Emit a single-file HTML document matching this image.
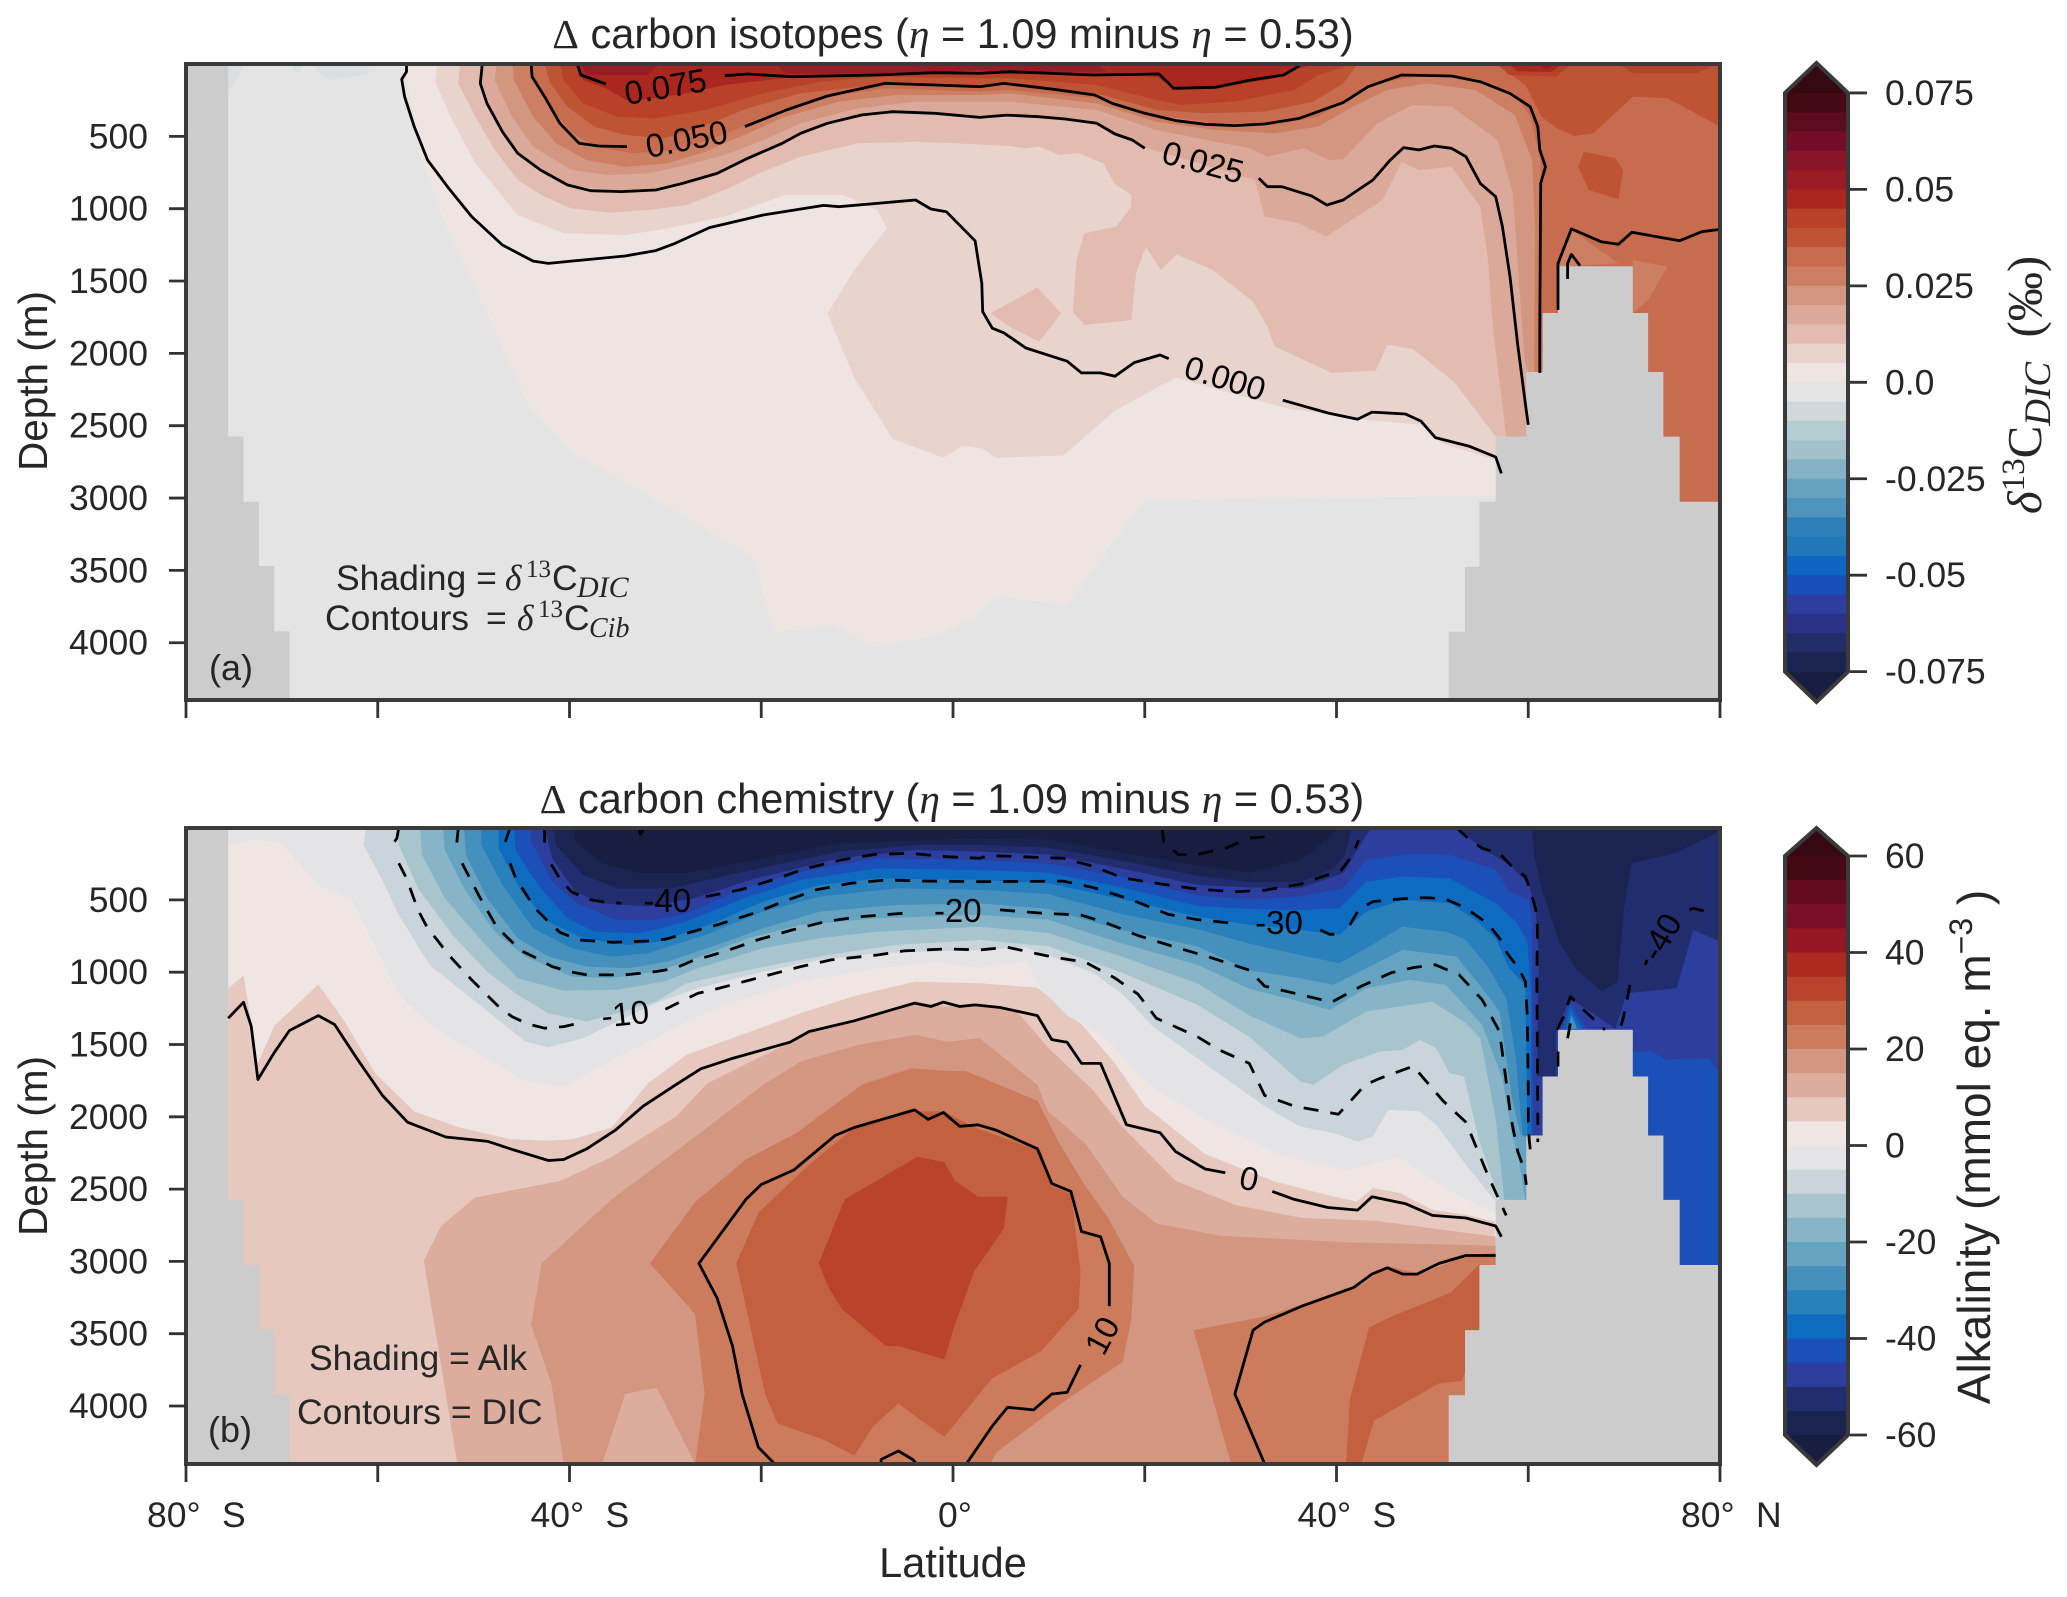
<!DOCTYPE html>
<html lang="en"><head><meta charset="utf-8"><title>Carbon isotopes and carbon chemistry sections</title>
<style>
html,body{margin:0;padding:0;background:#fff}
svg{display:block}
text{font-family:"Liberation Sans",sans-serif;fill:#262626}
.s35{font-size:35.5px}.mi{font-family:"Liberation Serif",serif;font-style:italic}.mr{font-family:"Liberation Serif",serif}
</style></head><body>
<svg xmlns="http://www.w3.org/2000/svg" id="fig" width="2067" height="1597" viewBox="0 0 2067 1597">
<defs>
<clipPath id="clipA"><rect x="186" y="64" width="1534" height="636"/></clipPath>
<clipPath id="clipB"><rect x="186" y="828" width="1534" height="636"/></clipPath>
</defs>
<g id="panelA" clip-path="url(#clipA)"></g>
<g id="panelB" clip-path="url(#clipB)"></g>
<g id="axes"></g>
<g id="cbars"></g>

<text x="953" y="48" text-anchor="middle" font-size="41.5"><tspan class="mr">Δ</tspan> carbon isotopes (<tspan class="mi">η</tspan> = 1.09 minus <tspan class="mi">η</tspan> = 0.53)</text>
<text x="952" y="813" text-anchor="middle" font-size="41.5"><tspan class="mr">Δ</tspan> carbon chemistry (<tspan class="mi">η</tspan> = 1.09 minus <tspan class="mi">η</tspan> = 0.53)</text>

<text x="336" y="590" class="s35">Shading =<tspan class="mi" x="505">δ</tspan><tspan class="mr" x="526" dy="-13" font-size="25">13</tspan><tspan x="552" dy="13">C</tspan><tspan class="mi" x="577" dy="7" font-size="30">DIC</tspan></text>
<text x="325" y="630" class="s35">Contours<tspan x="486">=</tspan><tspan class="mi" x="517">δ</tspan><tspan class="mr" x="538" dy="-13" font-size="25">13</tspan><tspan x="564" dy="13">C</tspan><tspan class="mi" x="589" dy="7" font-size="28">Cib</tspan></text>
<text x="231" y="680" text-anchor="middle" font-size="36">(a)</text>
<text x="309" y="1370" class="s35">Shading = Alk</text>
<text x="297" y="1424" class="s35">Contours = DIC</text>
<text x="230" y="1442" text-anchor="middle" font-size="36">(b)</text>

<text transform="translate(47,381) rotate(-90)" text-anchor="middle" font-size="40.5">Depth (m)</text>
<text transform="translate(47,1146) rotate(-90)" text-anchor="middle" font-size="40.5">Depth (m)</text>
<text x="953" y="1577" text-anchor="middle" font-size="41.5">Latitude</text>

<text transform="translate(2041,385) rotate(-90)" text-anchor="middle" font-size="49"><tspan class="mi">δ</tspan><tspan class="mr" dy="-17" font-size="33">13</tspan><tspan class="mr" dy="17">C</tspan><tspan class="mi" dy="9" font-size="37">DIC</tspan><tspan class="mr" dy="-9" xml:space="preserve">  (‰)</tspan></text>
<text transform="translate(1990,1147) rotate(-90)" text-anchor="middle" font-size="46">Alkalinity (mmol eq. m<tspan dy="-18" font-size="32">−3</tspan><tspan dy="18"> )</tspan></text>

<script>
// ---------- palettes (style only) ----------
const palA = ['#430a15','#5c0c1f','#740c28','#8a1428','#9a1a25','#ab261f','#b9412a','#bf5435','#c76c4f','#cd7f63','#d39680','#dba999','#e2bcb0','#e8d3cd','#eee5e3','#e4e4e5','#d0d8dc','#b5ccd2','#a2c2cb','#85b1c4','#65a2c0','#4e94bd','#2f80b8','#2277b8','#0e66c0','#194fbb','#2c3f9e','#2a3188','#242c68','#1b2350'];
const palB = ['#430a15','#630c20','#7c0f28','#961624','#ad2a20','#b9432c','#c2603f','#cc7b5c','#d39680','#dcac9c','#e6c8be','#efe5e2','#e4e4e6','#c9d5da','#a8c5cd','#87b4c6','#65a3c0','#4690bd','#2a80bb','#0e6cc0','#1a50b8','#2c3f9e','#222d70','#1b2450'];
const darkNavy = '#181e42';

// ---------- axis ticks ----------
const depthTicks = [500,1000,1500,2000,2500,3000,3500,4000];
const latTicks = [-80,-60,-40,-20,0,20,40,60,80];
const latLabelLats = [-80,-40,0,40,80];
const latLabelDeg = ['80°','40°','0°','40°','80°'];
const latLabelHem = ['S','S','','S','N'];
const cbarATicks = [0.075,0.05,0.025,0,-0.025,-0.05,-0.075];
const cbarALabels = ['0.075','0.05','0.025','0.0','-0.025','-0.05','-0.075'];
const cbarBTicks = [60,40,20,0,-20,-40,-60];
const cbarBLabels = ['60','40','20','0','-20','-40','-60'];

// ---------- bathymetry, flat [lat,depth,...] ----------
const landLeft = [-80,0,-75.6,0,-75.6,2575,-74,2575,-74,3025,-72.4,3025,-72.4,3470,-70.8,3470,-70.8,3922,-69.2,3922,-69.2,4400,-80,4400];
const landRight = [51.7,4400,51.7,3925,53.4,3925,53.4,3475,54.9,3475,54.9,3025,56.6,3025,56.6,2575,59.8,2575,59.8,2129,61.5,2129,61.5,1721,63.1,1721,63.1,1398,70.9,1398,70.9,1721,72.5,1721,72.5,2129,74.1,2129,74.1,2575,75.8,2575,75.8,3025,80,3025,80,4400];

// ---------- panel (a): filled d13C DIC levels ----------
const aFaint1 = [-75.6,0,-75.6,190,-74.6,100,-74,0];
const aFaint2 = [-69,0,-68.6,60,-68,50,-67.8,0];
const aFaint3 = [-66.8,0,-66,70,-65,110,-63,90,-61,70,-60.9,0];
const aGe00 = [-57.2,0,-55.5,636,-52.9,1125,-48.9,1679,-44.2,2364,-39.6,2690,-29.6,3064,-20.9,3407,-18.6,3928,-12.3,3880,-8.3,4026,-2.3,3960,2.3,3830,4.5,3684,11.9,3733,20,3015,56.6,2983,80,2983,80,0];
const aGe05 = [-53.8,0,-54,122,-52.4,364,-49.8,687,-45.4,1044,-40.6,1170,-34.2,1182,-30.6,1147,-23.8,1055,-17.5,905,-11.5,905,-7.9,1009,-6.9,1136,-10.3,1424,-13.1,1723,-10.3,2168,-6.3,2592,-1,2722,1,2640,3,2657,4.5,2722,11.5,2706,16.9,2396,23.2,2168,34.8,2380,43.4,2461,48.8,2494,51.1,2624,56.6,2738,80,2738,80,0];
const aGe10 = [-51.4,0,-51.6,134,-49.8,364,-47.8,594,-45.4,802,-42.6,917,-39.8,998,-35.8,1028,-31.8,1009,-27.8,975,-23.8,871,-19.8,744,-15.9,640,-9.9,548,-3.9,537,0.1,548,5.9,567,7.5,583,9,571,11.1,629,13.1,617,15.7,687,16.8,825,18.6,905,18.6,986,17,1124,13.7,1170,12.9,1355,12.5,1712,13.7,1804,18.6,1770,19.1,1447,20.1,1263,21.7,1424,23.3,1316,27.1,1424,31.3,1643,32.8,1816,33.5,1950,39.5,2135,44.1,2119,45.3,1940,48,1972,52.3,2200,56.6,2575,80,2575,80,0];
const aDiamond = [3.9,1723,8.8,1544,11.3,1723,9,1919,5.9,1816];
const aGe15 = [-49.2,0,-49.3,134,-47.8,364,-45.4,617,-40.2,836,-34.6,882,-29.8,859,-24.6,756,-17.8,548,-13.1,410,-6.3,330,2.8,369,5.6,353,9,364,15,410,17.1,491,20,576,31.5,802,32.5,1055,36.1,1101,38.9,1193,44.8,940,46.8,675,48.6,733,52,710,55,986,55.8,1355,56.3,1816,57.7,2575,80,2575,80,0];
const aGe20 = [-47.6,0,-47.8,111,-46,364,-43.8,571,-39.8,733,-35.8,767,-31.8,756,-27.8,698,-23.8,629,-19.8,525,-15.9,410,-9.9,306,-3.9,260,2.8,260,5.9,260,15,318,21.2,456,27.4,537,31,583,32.8,640,36.6,583,39.2,664,40.7,659,44.3,410,47.9,283,52,295,56.8,525,58.4,894,59.6,2046,60,2129,80,3100,80,0];
const aGe25 = [-45.9,0,-45.8,111,-43.8,364,-41.4,548,-38.2,664,-34.2,710,-29.8,687,-25.8,606,-21.8,491,-17.5,364,-11.9,260,-5.9,214,2.8,214,5.9,203,15,272,21.2,399,27.4,456,33.5,479,38.1,433,41.7,295,45.3,180,49.4,134,54.5,180,58.6,352,60.4,664,60.7,1124,60.6,2129,80,3100,80,0];
const aGe30 = [-44.2,0,-43.8,111,-41.8,318,-39.8,468,-37.4,571,-33.4,617,-29,594,-25,514,-21.4,421,-17.5,306,-11.9,214,-7.1,168,2.8,191,5.9,180,15,237,21.2,353,27.4,410,33.5,421,38.1,364,41.2,237,44.3,134,49.4,76,54.5,99,58.6,203,60.2,364,61.3,664,61.3,1723,62,3100,80,3100,80,0];
const aPatch1 = [64.5,1147,69.4,1378,63.2,1401];
const aPatch2 = [70.9,1355,74.5,1401,72.5,1631,70.9,1723];
const aGe35 = [-42.6,0,-42,134,-40.2,295,-37.4,433,-34.2,491,-30.2,514,-26.2,433,-21.4,306,-15.9,203,-7.9,145,2.8,145,5.9,138,15,203,21.2,318,26.3,341,32.5,329,37.6,260,40.7,134,42.2,0];
const aGe35North = [56.6,0,59.7,145,61.4,364,63,445,64.8,498,66.8,479,70.9,226,74.5,237,79.1,399,80,433,80,0];
const aGe35Core = [65.8,606,69.1,652,69.9,733,69.4,935,66.3,871,65.2,710];
const aGe40 = [-41,0,-40.6,111,-38.6,272,-35,364,-31,376,-25.8,318,-19.8,203,-13.9,122,-7.9,88,2.8,99,5.9,99,15,145,21.2,249,23.8,283,29.4,260,35.6,180,38.1,76,41.7,0];
const aGe40N1 = [56.8,0,58,76,62.9,88,64.5,0];
const aGe40N2 = [69.4,0,70.9,65,77.6,65,79.6,0];
const aGe45 = [-39.2,0,-38.6,111,-36.2,168,-33.8,260,-27.8,203,-23.8,145,-17.8,99,-7.9,65,2.8,65,5.9,69,16.1,76,21.2,88,23.3,180,28.4,157,33.5,99,36,30,38.1,0];
const aGe45N = [58,0,58.8,50,62.4,55,63.6,0];
const aGe50a = [-38.8,0,-38.2,76,-31.8,76,-30.6,0];
const aGe50b = [-18.6,0,-17.4,65,-3.9,65,2.8,42,5.9,53,16.1,53,15,0];
const aGe50c = [61,0,61.8,40,63,0];

// ---------- panel (a): contours ----------
const aC0West = [-57,0,-57,53,-57.5,106,-57.2,226,-56.2,433,-54.8,664,-52.6,859,-50.2,1055,-47,1251,-43.8,1362,-42.2,1378,-39.8,1362,-34.2,1327,-31,1290,-29,1240,-25.4,1131,-19.8,1044,-13.5,977,-11.9,986,-3.9,940,-2.3,1002,-0.7,1021,2.3,1222,3,1516,3.1,1712,4.1,1826,5.3,1858,7.6,1963,11.9,2054,13.4,2135,15.4,2135,16.9,2158,18.9,2064,21.6,2011,22.5,2037];
const aC0East = [34.4,2324,39.1,2412,42.2,2455,43.7,2406,47.2,2419,48.8,2468,50.3,2582,53.8,2641,56.6,2716,57.2,2830];
const aC25West = [-49.1,0,-49.3,134,-48.6,272,-47,468,-45.4,617,-43,733,-40.2,836,-37.8,876,-34.6,882,-31,871,-28.2,825,-24.6,756,-21.4,652,-17.8,548,-15.9,479,-13.1,410,-9.5,352,-6.3,330,-1.9,341,2.8,369,5.6,353,8.9,364,11.7,380,15,410,16.9,484,18.7,525,20,583];
const aC25East = [31.9,790,32.8,848,34.3,848,37.4,912,39,975,40.7,940,43.8,802,45.6,664,47,578,48.6,594,50.2,567,52,583,53.5,640,55,825,56.6,917,57.3,1124,58.1,1470,58.9,1940,59.8,2396,60,2494];
const aC50West = [-44,0,-43.9,88,-42.6,226,-41,410,-39,548,-37,567,-34,571];
const aC50East = [-21.7,433,-17.4,318,-13.1,221,-7.1,134,-1.9,145,2.8,157,5.3,134,10.5,175,14.8,214,16.6,272,20,341,23.3,392,26.3,417,29.4,426,32.5,415,36.1,376,40.7,267,43.3,157,46.8,76,52,83,55,122,58.1,203,60.2,295,61,433,61.2,594,61.8,710,61.3,825,61.2,1816,61.2,2135];
const aC75West = [-39.2,0,-38.8,76,-36.2,138];
const aC75East = [-23.8,81,-21.4,69,-16.7,88,-7.9,76,-1.9,60,2.8,65,5.9,53,14.6,76,21.5,69,23,168,27.4,161,31,111,34.5,76,36,18,36.2,0];
const aCNorth = [63.1,1700,63.1,1378,64.5,1140,67.6,1228,69.4,1246,70.8,1163,75.8,1221,78.1,1159,80,1143];
const aCHill = [64.1,1486,64.1,1378,64.5,1316,65.4,1394];
const aLabelText = ['0.075','0.050','0.025','0.000'];
const aLabelLat = [-30,-27.8,26.1,28.4];
const aLabelDepth = [152,514,675,2168];
const aLabelAngle = [-10,-11,15,17];

// ---------- panel (b): filled alkalinity levels ----------
const bPos5 = [-75.6,1115,-74,1023,-72.5,1631,-70.8,1373,-66.2,1085,-63.5,1336,-60.2,1705,-56.2,1963,-51.5,2074,-46.2,2154,-42.2,2165,-39.6,2154,-35.6,2074,-31.8,1768,-27.8,1572,-15.9,1284,-9.9,1157,-3.9,1065,2.8,1076,8.8,1108,13.1,1336,16.9,1631,20,1926,26.3,2258,33.3,2442,36.2,2493,39.7,2551,42.1,2586,43.8,2493,46.6,2528,50,2643,53.5,2678,56.5,2724,56.5,4400,-75.6,4400];
const bPos10 = [-51.7,4400,-55.2,2995,-53.4,2756,-49.9,2560,-40.9,2442,-35.6,2277,-28.9,2000,-25.6,1768,-15.1,1422,-3.9,1203,-0.7,1238,2.8,1226,6.8,1281,9.9,1521,14.6,1816,17.7,2073,23.2,2442,29.4,2608,36.4,2700,44.1,2719,50.3,2774,56.6,2829,56.6,4400];
const bPos15 = [-40.6,4400,-41.9,3843,-44,3438,-42.9,3014,-35.6,2571,-28.9,2239,-19.8,1779,-15.9,1618,-9.9,1503,-3.9,1433,-0.7,1480,2.8,1457,8.8,1779,9.9,1963,13.8,2184,17.7,2553,21.2,2737,27.8,2822,41,2867,56.6,2892,56.6,4400];
const bLobe = [-36.6,4400,-34.2,3917,-30.9,3873,-26.9,4400];
const bPos20West = [-26.9,4400,-25.9,3917,-26.9,3364,-31.6,3014,-26.9,2590,-21.6,2295,-16.3,2110,-9.5,1779,-4.3,1664,-1.3,1680,1.4,1686,8.8,1889,11.1,2184,13.8,2479,16.2,2700,18.9,3032,18.6,3401,17.7,3695,11.9,3953,4.5,4322,3.9,4400];
const bPos20East = [25.1,3475,32.5,3382,42.6,3161,45.3,3032,48.8,3088,53.5,2959,56.6,2940,56.6,4400,29,4400];
const bPos25West = [-22.6,3014,-20.3,2663,-15,2332,-10.3,2074,-4.3,1963,-0.9,1963,2.2,2073,9.2,2240,10.3,2479,12.3,2534,13.3,3069,13.1,3327,9.2,3622,4.1,3807,-0.9,4212,-3.3,4102,-5.7,3983,-8.3,4139,-10.3,4342,-13.6,4230,-18.3,4120,-19.6,3917];
const bPos25East = [41,4400,42.6,4400,43.9,4101,50.7,3843,53.1,3825,55,3438,55,3014,51.9,3217,45.7,3383,43.4,3457,41.4,3954];
const bPos30 = [-14,3014,-11.3,2571,-3.7,2276,-0.9,2314,0.2,2443,2.6,2553,5.7,2553,5.3,2774,2.2,3069,0.2,3438,-0.9,3678,-5.6,3586,-7,3586,-11.6,3328,-13,3180];
const bNeg0 = [-80,0,-80,120,-75.6,120,-72.8,83,-70.2,101,-66.2,396,-62.8,488,-59.8,881,-57.8,1157,-54.6,1364,-49.8,1549,-44.6,1756,-40.6,1791,-35.8,1618,-31.8,1480,-27.8,1341,-23.8,1226,-19.8,1145,-15.9,1065,-7.9,973,-1.9,927,2.8,973,4.5,949,7.6,923,9.2,1115,11.9,1300,15.8,1447,17.7,1594,21.2,1816,27,2037,34,2258,41,2369,46.5,2277,51.9,2516,56.6,2663,75,2663,75,3100,80,3100,80,0];
const bNeg5 = [-61.2,0,-61.5,120,-59.8,328,-57.8,604,-54.6,950,-49.8,1203,-44.6,1480,-42.2,1521,-38.6,1457,-35,1341,-30.6,1203,-26.6,1111,-19.8,996,-13.9,915,-7.9,869,2.8,846,4.5,839,7.6,828,10.7,902,14.6,1005,17.7,1152,20.8,1373,27,1668,32.5,1926,36.2,2067,39.7,2113,42.2,2171,43.8,2136,45.4,1952,48.7,1963,50.4,2056,53.5,2332,56.6,2586,75,2663,75,3100,80,3100,80,0];
const bNeg10 = [-57.8,0,-57.8,120,-55.8,420,-52.2,742,-48.6,996,-45.4,1157,-42.2,1284,-38.2,1341,-35,1284,-31,1203,-27.8,1076,-23.8,1019,-17.9,938,-11.9,869,-5.9,811,2.8,777,9.9,820,17.7,1005,25.5,1226,30.9,1447,36.2,1756,37.6,1779,40.7,1641,44.5,1549,46.9,1537,48.7,1468,50.4,1526,51.8,1698,53.3,1721,54.9,2171,57,2574,75,2663,75,3100,80,3100,80,0];
const bNeg15 = [-55.6,0,-55.4,189,-53,489,-49.4,765,-45.4,1042,-40.6,1127,-35,1122,-30.2,1065,-26.6,973,-19.8,834,-13.9,765,-7.9,719,2.8,685,9.9,728,17.7,894,25.5,1078,30.9,1299,36.2,1457,38.6,1445,43.1,1272,50,1203,53.5,1353,55,1457,56.6,2010,57.5,2574,75,2663,75,3100,80,3100,80,0];
const bNeg20 = [-53.2,0,-53,155,-51,420,-47.8,719,-44.6,892,-39.8,1030,-35.8,1042,-31,996,-27.8,927,-21.4,765,-15.9,673,-7.9,627,2.8,604,9.9,636,17.7,802,25.5,949,30.9,1115,36.2,1203,39.3,1261,43.1,1111,47.6,1053,51.4,1088,55.2,1364,57.3,1733,58.3,2125,59,2286,59.7,2586,75,2663,75,3100,80,3100,80,0];
const bNeg25 = [-51,0,-50.8,189,-48.6,489,-45.4,765,-42.2,892,-38.2,961,-33.8,973,-29.8,927,-24.6,811,-19.8,696,-13.9,581,-5.9,535,2.8,523,9.9,562,17.7,710,25.5,820,30.9,986,36.2,1042,39.7,1088,43.1,973,46.9,846,52.5,892,55.2,1111,57,1272,58.3,1871,59.2,2125,75,2600,75,3100,80,3100,80,0];
const bNeg30 = [-49.2,0,-49.2,120,-47,397,-43.8,696,-39.8,834,-35.8,892,-31.8,869,-25.8,742,-19.8,581,-13.9,477,-5.9,420,2.8,431,9.9,459,17.7,599,25.5,702,30.9,802,36.2,881,40.3,938,43.1,834,46.9,685,51.4,719,53.5,777,55.9,973,57.7,1180,58.7,1595,59.4,2125,75,2600,75,3100,80,3100,80,0];
const bNeg35 = [-47.4,0,-47.4,143,-45,443,-42.2,650,-38.6,765,-33.8,811,-30.6,788,-25,662,-19.8,512,-13.9,397,-7.9,351,2.8,362,9.9,385,17.7,496,25.5,617,30.9,672,36.2,708,40.3,742,43.1,581,46.9,500,51.8,523,54.5,639,56.6,765,58,973,59.7,1088,59.9,2125,75,2600,75,3100,80,3100,80,0];
const bNeg40 = [-45.8,0,-45.6,166,-43,420,-40.2,627,-37.4,719,-32.6,731,-27.8,650,-21.8,489,-15.9,362,-7.9,282,2.8,293,9.9,311,17.7,414,25.5,543,30.9,562,36.2,570,40.3,558,43.1,374,46.9,339,51.8,351,56.6,523,58.7,650,59.9,788,60.3,1134,60.3,2125,75,2600,75,3100,80,3100,80,0];
const bNeg45 = [-44,0,-44,97,-41.8,374,-39,535,-35,639,-31,639,-27.8,593,-21.8,420,-15.9,305,-7.9,212,2.8,224,9.9,249,17.7,341,25.5,470,30.9,496,36.2,477,40.7,420,43.1,224,47.3,185,51.8,189,56.6,293,58,443,60.1,500,60.4,673,60.5,2056,60.5,2129,65,2129,70.9,1549,72.9,1549,74.3,1606,78.8,1595,79.7,1675,80,1675,80,0];
const bNeg50 = [-42.6,0,-41.8,212,-39.4,443,-36.6,523,-31.8,546,-27,489,-20.6,351,-11.9,212,-3.9,155,2.8,166,9.9,186,17.7,285,25.5,396,30.9,414,36.2,420,40.7,316,42.8,86,43.6,0];
const bNeg50North = [52.5,0,55.2,143,58.3,270,60.1,397,60.8,581,61.1,904,60.9,1721,62.9,1721,62.9,1388,69.1,1388,70.3,1145,75.5,1111,77.2,708,79.7,777,80,777,80,0];
const bNeg55 = [-41.6,0,-41.4,120,-38.6,328,-35,420,-29.4,420,-21.8,305,-11.9,166,-3.9,120,2.8,120,9.9,138,17.7,230,25.5,333,30.9,378,36.2,374,39.7,282,40.9,189,41.6,0];
const bNeg55North = [60.4,0,60.6,189,61.5,443,63.2,788,64.9,973,67.7,1134,69.3,1065,70,558,70.8,247,75.3,178,79.6,40,80,0];
const bNeg60 = [-39.6,0,-39.4,97,-36.6,247,-32.6,316,-27.8,316,-19.8,212,-11.9,109,2.8,74,9.9,83,17.7,175,25.5,260,30.9,311,36.2,224,38.3,120,40.3,0];
const bTip1 = [63,1392,64.4,1180,69.1,1392];
const bTip2 = [63.5,1392,64.4,1215,66.1,1392];
const bTip3 = [63.9,1392,64.4,1249,65.6,1392];
const bTip4 = [64.2,1392,64.5,1295,65.1,1392];

// ---------- panel (b): contours ----------
const bC0West = [-75.6,1318,-74,1208,-73.2,1373,-72.5,1742,-70.8,1557,-69.2,1403,-66.2,1300,-64.5,1362,-62.2,1595,-59.5,1853,-56.9,2037,-52.9,2140,-48.5,2170,-46.2,2221,-42.2,2302,-40.6,2295,-38.2,2221,-35.2,2092,-32.3,1926,-28.9,1778,-26.3,1668,-22.9,1594,-17,1484,-15,1410,-10.3,1336,-4,1214,-2.3,1237,-1,1207,0.7,1237,2.3,1226,4.9,1244,8.8,1300,10.3,1466,11.9,1484,13.4,1631,15.4,1631,18.1,2055,21.6,2110,23.2,2239,26.3,2361,28.4,2387];
const bC0East = [33.3,2516,35.6,2571,39.1,2627,42.2,2645,43.7,2553,47.2,2601,50,2682,53.5,2700,56.6,2755,57.2,2829];
const bC10Loop = [-18.6,4400,-20.3,4286,-22,3917,-23,3585,-24.6,3254,-26.5,3014,-21.6,2571,-20,2468,-16.6,2368,-12.3,2129,-10.3,2074,-4,1952,-2.6,2018,-1,1970,0.7,2066,2.6,2055,4.5,2092,8.8,2221,10.3,2461,12.3,2516,13.4,2793,15.4,2830,16.3,3014,16.3,3309];
const bC10Tail = [13.3,3715,11.9,3906,10.3,3917,8.4,4027,5.7,4009,4.1,4138,1.4,4400];
const bC10Arc = [-7.5,4400,-7.5,4370,-5.7,4311,-4.2,4370,-3.8,4400];
const bC10East = [32.5,4400,29.4,3917,31.3,3475,32.5,3420,36.4,3309,41.8,3180,43.7,3088,45.3,3044,46.9,3088,48.4,3088,50.7,3014,53.5,2959,56.6,2959];
const bCm10Top = [-57.8,0,-58,74,-58.5,120];
const bCm10West = [-57.8,247,-57,351,-55.8,570,-54.8,696,-53.8,777,-52.6,881,-50.2,1053,-48.8,1145,-47.4,1238,-46,1307,-44.4,1357,-42.6,1387,-40.6,1376,-39,1353];
const bCm10East = [-30,1256,-28.4,1203,-26.6,1145,-25,1122,-19.8,1030,-15.9,961,-12.7,915,-7.9,881,-5.1,853,-0.7,839,2.8,846,5.7,828,10.3,894,13.8,931,16.9,1041,19.3,1152,21.2,1318,25.5,1447,27.8,1539,30.9,1631,32.5,1852,35.6,1926,40.2,1982,43,1779,44.5,1735,48,1650,51.1,1889,53.5,2037,55.8,2406,57.7,2682];
const bCm20Top = [-51.6,0,-51.8,132];
const bCm20West = [-51.2,247,-49.4,477,-47.6,685,-46.4,765,-45,853,-43.4,904,-41.8,961,-40,996,-38.2,1019,-34.2,1019,-31,996,-29,973,-27.2,922,-23.8,857,-20.4,777,-16.8,708,-13.3,650,-9.7,616,-4.3,588];
const bCm20East = [4.9,569,9.2,591,13.4,606,15.8,654,19.3,746,23.2,827,27,901,30.9,986,32.5,1096,35.6,1145,39.5,1207,42.6,1096,45.7,1004,48,968,50.3,949,52.8,1019,55.2,1191,57,1410,57.7,1756,58.2,2009,58.9,2240,59.6,2367,59.8,2470];
const bCm30Top = [-46.2,0,-46.8,120];
const bCm30West = [-46.2,247,-45.6,351,-43.6,558,-42.2,650,-41,724,-39,777,-35.4,793,-31.8,784,-30,772,-27.8,731,-24.6,673,-20.8,593,-17.7,512,-14.3,431,-10.7,385,-6.9,362,-3.3,369,2.8,374,11.5,370,14.6,414,18.5,496,22.4,599,25.5,636,29.8,665];
const bCm30Mid = [38.3,708,39.3,738,39.8,738];
const bCm30East = [41.4,673,42.3,570,43.8,512,45.5,500,47.6,489,49.2,484,51.3,493,52.8,535,54.4,599,55.8,666,57,765,57.8,869,59,973,59.7,1065,59.8,1180,59.9,1307,60,1825,60,2033,60.1,2159,60.3,2281];
const bCm40Top = [-42.6,0,-42.6,132];
const bCm40West = [-41.9,254,-41,355,-39.8,443,-38.2,494,-36.2,517,-34.6,523];
const bCm40East = [-25.8,477,-22.2,431,-18.8,362,-15.3,282,-11.7,224,-8.1,185,-4.5,178,-0.7,201,2.8,212,3.7,193,11.5,212,14.6,267,17.7,348,21.2,385,25.5,425,29.4,444,32.5,433,36.2,392,39,328,40.5,293,41.7,189,42.3,86];
const bCm40Blob = [21.8,0,22,101,23.5,186,25.5,186,28.6,138,30.9,72,32.5,64];
const bCBlobTop = [-32.8,0,-32.6,47,-32.2,0];
const bCNorthWall = [52.5,0,53.9,86,55.2,143,57,178,58.3,270,59.7,339,60.3,454,60.8,570,60.95,696,60.9,1065,60.95,1560,61,2056];
const bCNorthDot = [61,2150,61,2175];
const bCNorthHook = [78.3,576,77.2,558,76.7,570];
const bCNorthM40a = [72.4,915,72.2,950];
const bCNorthM40b = [70.6,1088,70.3,1192,69.9,1318,69.4,1434];
const bCHillA = [63,1399,63.7,1307,64.4,1169,65.6,1249,66.9,1330,68,1399];
const bCHillB = [64.1,1457,64.4,1353];
const bCHillC = [63.1,1652,63.1,1537];
const bLabelText = ['-40','-20','-30','-10','0','10','-40'];
const bLabelLat = [-29.8,0.5,34,-34.2,30.9,15.5,73.8];
const bLabelDepth = [500,570,654,1284,2424,3511,754];
const bLabelAngle = [0,0,0,-6,12,-62,-60];

// ---------- axis functions ----------
const NS = 'http://www.w3.org/2000/svg';
const xLat = lat => 953 + lat * 9.5875;
const yA = d => 64 + d * 0.14468;
const yB = d => 827.6 + d * 0.1446;
const cbA = v => 382.3 - v * 3858;
const cbB = v => 1145.5 - v * 4.825;

function pointsOf(vals, yf) {
  const out = [];
  for (let i = 0; i < vals.length; i += 2) out.push(xLat(vals[i]).toFixed(1) + ',' + yf(vals[i + 1]).toFixed(1));
  return out.join(' ');
}
function fillShape(parent, vals, color, yf, label) {
  const el = document.createElementNS(NS, 'polygon');
  el.setAttribute('points', pointsOf(vals, yf));
  el.setAttribute('fill', color);
  
  
  parent.appendChild(el);
}
function contour(parent, vals, dashed, yf, label) {
  const el = document.createElementNS(NS, 'polyline');
  el.setAttribute('points', pointsOf(vals, yf));
  el.setAttribute('fill', 'none');
  el.setAttribute('stroke', '#000');
  el.setAttribute('stroke-width', '2.8');
  el.setAttribute('stroke-linejoin', 'round');
  if (dashed) el.setAttribute('stroke-dasharray', '15 12');
  
  
  parent.appendChild(el);
}
function textAt(parent, x, y, str, size, anchor, label) {
  const el = document.createElementNS(NS, 'text');
  el.setAttribute('x', x);
  el.setAttribute('y', y);
  el.setAttribute('font-size', size);
  el.setAttribute('text-anchor', anchor);
  el.textContent = str;
  
  
  parent.appendChild(el);
  return el;
}
function lineAt(parent, x1, y1, x2, y2, label) {
  const el = document.createElementNS(NS, 'line');
  el.setAttribute('x1', x1); el.setAttribute('y1', y1);
  el.setAttribute('x2', x2); el.setAttribute('y2', y2);
  el.setAttribute('stroke', '#333');
  el.setAttribute('stroke-width', '2.8');
  
  
  parent.appendChild(el);
}
function bgRect(parent, top, color, label) {
  const el = document.createElementNS(NS, 'rect');
  el.setAttribute('x', 186); el.setAttribute('y', top);
  el.setAttribute('width', 1534); el.setAttribute('height', 637);
  el.setAttribute('fill', color);
  
  
  parent.appendChild(el);
}
function contourLabels(parent, texts, lats, depths, angles, yf, label) {
  texts.forEach((t, i) => {
    const cx = xLat(lats[i]), cy = yf(depths[i]);
    const el = textAt(parent, cx, cy + 12, t, 33, 'middle', label);
    el.setAttribute('transform', 'rotate(' + angles[i] + ' ' + cx + ' ' + cy + ')');
    el.style.fill = '#000';
  });
}

// ---------- panel (a) ----------
const gA = document.getElementById('panelA');
bgRect(gA, 64, palA[15], 'panel-a-background');
[aFaint1, aFaint2, aFaint3].forEach(v => fillShape(gA, v, '#d9e0e3', yA, 'faint-negative-patch'));
fillShape(gA, aGe00, palA[14], yA, 'level-0-000');
fillShape(gA, aGe05, palA[13], yA, 'level-0-005');
fillShape(gA, aGe10, palA[12], yA, 'level-0-010');
fillShape(gA, aDiamond, palA[12], yA, 'level-0-010-patch');
fillShape(gA, aGe15, palA[11], yA, 'level-0-015');
fillShape(gA, aGe20, palA[10], yA, 'level-0-020');
fillShape(gA, aGe25, palA[9], yA, 'level-0-025');
fillShape(gA, aGe30, palA[8], yA, 'level-0-030');
fillShape(gA, aPatch1, palA[9], yA, 'level-0-025-patch');
fillShape(gA, aPatch2, palA[9], yA, 'level-0-025-patch');
fillShape(gA, aGe35, palA[7], yA, 'level-0-035');
fillShape(gA, aGe35North, palA[7], yA, 'level-0-035-north');
fillShape(gA, aGe35Core, palA[7], yA, 'level-0-035-core');
fillShape(gA, aGe40, palA[6], yA, 'level-0-040');
fillShape(gA, aGe40N1, palA[6], yA, 'level-0-040-north');
fillShape(gA, aGe40N2, palA[6], yA, 'level-0-040-north');
fillShape(gA, aGe45, palA[5], yA, 'level-0-045');
fillShape(gA, aGe45N, palA[5], yA, 'level-0-045-north');
fillShape(gA, aGe50a, palA[4], yA, 'level-0-050');
fillShape(gA, aGe50b, palA[4], yA, 'level-0-050');
fillShape(gA, aGe50c, palA[4], yA, 'level-0-050-north');
fillShape(gA, landLeft, '#cccccc', yA, 'land-south');
fillShape(gA, landRight, '#cccccc', yA, 'land-north');
[aC0West, aC0East].forEach(v => contour(gA, v, false, yA, 'contour-0-000'));
[aC25West, aC25East].forEach(v => contour(gA, v, false, yA, 'contour-0-025'));
[aC50West, aC50East].forEach(v => contour(gA, v, false, yA, 'contour-0-050'));
[aC75West, aC75East].forEach(v => contour(gA, v, false, yA, 'contour-0-075'));
[aCNorth, aCHill].forEach(v => contour(gA, v, false, yA, 'contour-north'));
contourLabels(gA, aLabelText, aLabelLat, aLabelDepth, aLabelAngle, yA, 'contour-label');

// ---------- panel (b) ----------
const gB = document.getElementById('panelB');
bgRect(gB, 827, palB[11], 'panel-b-background');
fillShape(gB, bPos5, palB[10], yB, 'alk-level-5');
fillShape(gB, bPos10, palB[9], yB, 'alk-level-10');
fillShape(gB, bPos15, palB[8], yB, 'alk-level-15');
fillShape(gB, bLobe, palB[9], yB, 'alk-level-10-lobe');
fillShape(gB, bPos20West, palB[7], yB, 'alk-level-20-west');
fillShape(gB, bPos20East, palB[7], yB, 'alk-level-20-east');
fillShape(gB, bPos25West, palB[6], yB, 'alk-level-25-west');
fillShape(gB, bPos25East, palB[6], yB, 'alk-level-25-east');
fillShape(gB, bPos30, palB[5], yB, 'alk-level-30');
fillShape(gB, bNeg0, palB[12], yB, 'alk-level-0');
fillShape(gB, bNeg5, palB[13], yB, 'alk-level-minus-5');
fillShape(gB, bNeg10, palB[14], yB, 'alk-level-minus-10');
fillShape(gB, bNeg15, palB[15], yB, 'alk-level-minus-15');
fillShape(gB, bNeg20, palB[16], yB, 'alk-level-minus-20');
fillShape(gB, bNeg25, palB[17], yB, 'alk-level-minus-25');
fillShape(gB, bNeg30, palB[18], yB, 'alk-level-minus-30');
fillShape(gB, bNeg35, palB[19], yB, 'alk-level-minus-35');
fillShape(gB, bNeg40, palB[20], yB, 'alk-level-minus-40');
fillShape(gB, bNeg45, palB[21], yB, 'alk-level-minus-45');
fillShape(gB, bNeg50, palB[22], yB, 'alk-level-minus-50');
fillShape(gB, bNeg50North, palB[22], yB, 'alk-level-minus-50-north');
fillShape(gB, bNeg55, palB[23], yB, 'alk-level-minus-55');
fillShape(gB, bNeg55North, palB[23], yB, 'alk-level-minus-55-north');
fillShape(gB, bNeg60, darkNavy, yB, 'alk-level-minus-60');
fillShape(gB, bTip1, palB[21], yB, 'ridge-tip');
fillShape(gB, bTip2, palB[20], yB, 'ridge-tip');
fillShape(gB, bTip3, palB[19], yB, 'ridge-tip');
fillShape(gB, bTip4, palB[17], yB, 'ridge-tip');
fillShape(gB, landLeft, '#cccccc', yB, 'land-south');
fillShape(gB, landRight, '#cccccc', yB, 'land-north');
[bC0West, bC0East].forEach(v => contour(gB, v, false, yB, 'contour-0'));
[bC10Loop, bC10Tail, bC10Arc, bC10East].forEach(v => contour(gB, v, false, yB, 'contour-10'));
[bCm10Top, bCm10West, bCm10East].forEach(v => contour(gB, v, true, yB, 'contour-minus-10'));
[bCm20Top, bCm20West, bCm20East].forEach(v => contour(gB, v, true, yB, 'contour-minus-20'));
[bCm30Top, bCm30West, bCm30Mid, bCm30East].forEach(v => contour(gB, v, true, yB, 'contour-minus-30'));
[bCm40Top, bCm40West, bCm40East, bCm40Blob, bCBlobTop].forEach(v => contour(gB, v, true, yB, 'contour-minus-40'));
[bCNorthWall, bCNorthDot, bCNorthHook, bCNorthM40a, bCNorthM40b, bCHillA, bCHillB, bCHillC].forEach(v => contour(gB, v, true, yB, 'contour-north'));
contourLabels(gB, bLabelText, bLabelLat, bLabelDepth, bLabelAngle, yB, 'contour-label');

// ---------- axes ----------
const gAxes = document.getElementById('axes');
function frame(top, bottom, label) {
  const el = document.createElementNS(NS, 'rect');
  el.setAttribute('x', 186); el.setAttribute('y', top);
  el.setAttribute('width', 1534); el.setAttribute('height', bottom - top);
  el.setAttribute('fill', 'none');
  el.setAttribute('stroke', '#3a3a3a');
  el.setAttribute('stroke-width', '4');
  
  
  gAxes.appendChild(el);
}
frame(64, 700, 'panel-a-frame');
frame(828, 1464, 'panel-b-frame');
depthTicks.forEach(d => {
  lineAt(gAxes, 169, yA(d), 186, yA(d), 'depth-tick');
  lineAt(gAxes, 169, yB(d), 186, yB(d), 'depth-tick');
  textAt(gAxes, 148, yA(d) + 12, String(d), 35.5, 'end', 'depth-tick-label');
  textAt(gAxes, 148, yB(d) + 12, String(d), 35.5, 'end', 'depth-tick-label');
});
latTicks.forEach(l => {
  lineAt(gAxes, xLat(l), 700, xLat(l), 718, 'latitude-tick');
  lineAt(gAxes, xLat(l), 1464, xLat(l), 1482, 'latitude-tick');
});
latLabelLats.forEach((l, i) => {
  if (latLabelHem[i]) {
    textAt(gAxes, xLat(l) - 39, 1527, latLabelDeg[i], 35.5, 'start', 'latitude-tick-label');
    textAt(gAxes, xLat(l) + 36, 1527, latLabelHem[i], 35.5, 'start', 'latitude-hemisphere-label');
  } else {
    textAt(gAxes, xLat(l) + 2, 1527, latLabelDeg[i], 35.5, 'middle', 'latitude-tick-label');
  }
});

// ---------- colorbars ----------
const gC = document.getElementById('cbars');
function colorbar(pal, scale, vTop, vStep, tipTop, tipBottom, ticks, labels, label) {
  const left = 1785, right = 1848, mid = 1816.5;
  const yTop = scale(vTop), yBot = scale(vTop - vStep * pal.length);
  const top = document.createElementNS(NS, 'polygon');
  top.setAttribute('points', left + ',' + yTop + ' ' + mid + ',' + tipTop + ' ' + right + ',' + yTop);
  top.setAttribute('fill', '#350812');
  
  
  gC.appendChild(top);
  const bot = document.createElementNS(NS, 'polygon');
  bot.setAttribute('points', left + ',' + yBot + ' ' + mid + ',' + tipBottom + ' ' + right + ',' + yBot);
  bot.setAttribute('fill', darkNavy);
  
  
  gC.appendChild(bot);
  pal.forEach((c, i) => {
    const y0 = scale(vTop - vStep * i), y1 = scale(vTop - vStep * (i + 1));
    const r = document.createElementNS(NS, 'rect');
    r.setAttribute('x', left); r.setAttribute('y', y0);
    r.setAttribute('width', right - left); r.setAttribute('height', y1 - y0 + 0.5);
    r.setAttribute('fill', c);
    
    
    gC.appendChild(r);
  });
  const o = document.createElementNS(NS, 'polygon');
  o.setAttribute('points', [left + ',' + yTop, mid + ',' + tipTop, right + ',' + yTop, right + ',' + yBot, mid + ',' + tipBottom, left + ',' + yBot].join(' '));
  o.setAttribute('fill', 'none');
  o.setAttribute('stroke', '#3a3a3a');
  o.setAttribute('stroke-width', '4');
  
  
  gC.appendChild(o);
  ticks.forEach((v, i) => {
    lineAt(gC, 1850, scale(v), 1867, scale(v), label + '-tick');
    textAt(gC, 1885, scale(v) + 12, labels[i], 35.5, 'start', label + '-tick-label');
  });
}
colorbar(palA, cbA, 0.075, 0.005, 63, 702, cbarATicks, cbarALabels, 'colorbar-a');
colorbar(palB, cbB, 60, 5, 828, 1465, cbarBTicks, cbarBLabels, 'colorbar-b');
</script>
</svg>
</body></html>
